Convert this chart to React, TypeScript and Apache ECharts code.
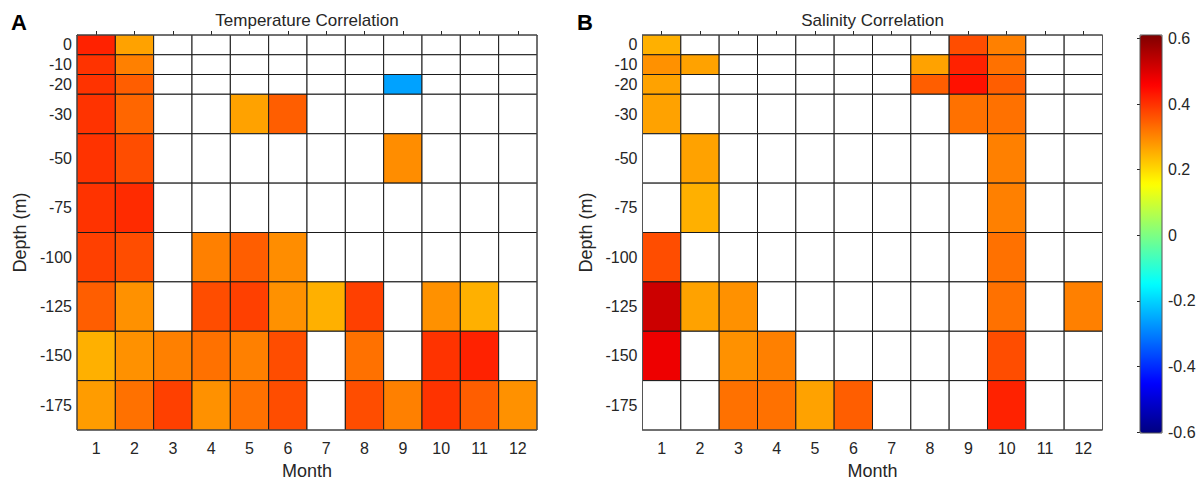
import React, { useEffect, useRef } from 'react';
import * as echarts from 'echarts';

// ---- data ----
const months = [1, 2, 3, 4, 5, 6, 7, 8, 9, 10, 11, 12];
const depthLabels = ['0', '-10', '-20', '-30', '-50', '-75', '-100', '-125', '-150', '-175'];
// row boundaries on a virtual depth scale (rows are unequal in height)
const rowEdges = [0, 2, 4, 6, 10, 15, 20, 25, 30, 35, 40];
const _ = null;

// Temperature correlation (rows = depth, columns = month), null = not shown
const tempCorr: (number | null)[][] = [
  [0.41, 0.26, _, _, _, _, _, _, _, _, _, _], // 0
  [0.39, 0.3, _, _, _, _, _, _, _, _, _, _], // -10
  [0.39, 0.34, _, _, _, _, _, _, -0.26, _, _, _], // -20
  [0.39, 0.33, _, _, 0.26, 0.34, _, _, _, _, _, _], // -30
  [0.39, 0.36, _, _, _, _, _, _, 0.285, _, _, _], // -50
  [0.39, 0.4, _, _, _, _, _, _, _, _, _, _], // -75
  [0.375, 0.36, _, 0.3, 0.34, 0.285, _, _, _, _, _, _], // -100
  [0.34, 0.28, _, 0.36, 0.375, 0.28, 0.243, 0.375, _, 0.28, 0.243, _], // -125
  [0.243, 0.28, 0.3, 0.318, 0.3, 0.36, _, 0.318, _, 0.39, 0.41, _], // -150
  [0.267, 0.318, 0.375, 0.28, 0.318, 0.36, _, 0.36, 0.3, 0.39, 0.34, 0.28], // -175
];

// Salinity correlation
const salCorr: (number | null)[][] = [
  [0.243, _, _, _, _, _, _, _, 0.36, 0.3, _, _], // 0
  [0.28, 0.26, _, _, _, _, _, 0.26, 0.41, 0.318, _, _], // -10
  [0.26, _, _, _, _, _, _, 0.34, 0.43, 0.34, _, _], // -20
  [0.26, _, _, _, _, _, _, _, 0.318, 0.318, _, _], // -30
  [_, 0.26, _, _, _, _, _, _, _, 0.3, _, _], // -50
  [_, 0.243, _, _, _, _, _, _, _, 0.3, _, _], // -75
  [0.36, _, _, _, _, _, _, _, _, 0.318, _, _], // -100
  [0.51, 0.26, 0.28, _, _, _, _, _, _, 0.318, _, 0.3], // -125
  [0.47, _, 0.28, 0.3, _, _, _, _, _, 0.36, _, _], // -150
  [_, _, 0.318, 0.318, 0.26, 0.34, _, _, _, 0.41, _, _], // -175
];

const colorMin = -0.6;
const colorMax = 0.6;
const jetColors = ['#000080', '#0000ff', '#0080ff', '#00ffff', '#80ff80', '#ffff00', '#ff8000', '#ff0000', '#800000'];

// ---- helpers ----
const FONT = "'Liberation Sans', Arial, Helvetica, sans-serif";
const TXT = '#262626';
const rowCenters = depthLabels.map((_l, i) => (rowEdges[i] + rowEdges[i + 1]) / 2);

function buildData(matrix: (number | null)[][]) {
  const out: any[] = [];
  matrix.forEach((row, r) => {
    row.forEach((v, i) => {
      out.push([months[i], r, v === null ? '-' : v]);
    });
  });
  return out;
}

const renderCell = (_params: any, api: any) => {
  const m = api.value(0);
  const r = api.value(1);
  const v = api.value(2);
  const p1 = api.coord([m - 0.5, rowEdges[r]]);
  const p2 = api.coord([m + 0.5, rowEdges[r + 1]]);
  const has = typeof v === 'number' && !isNaN(v);
  return {
    type: 'rect',
    shape: { x: p1[0], y: p1[1], width: p2[0] - p1[0], height: p2[1] - p1[1] },
    style: { fill: has ? api.visual('color') : '#ffffff', stroke: '#1a1a1a', lineWidth: 1 },
  };
};

const xAxisCfg = (gridIndex: number) => ({
  type: 'value',
  gridIndex,
  min: 0.5,
  max: 12.5,
  name: 'Month',
  nameLocation: 'middle',
  nameGap: 32,
  nameTextStyle: { fontSize: 18, color: TXT, fontFamily: FONT },
  axisLine: { show: true, lineStyle: { color: TXT, width: 1 } },
  axisTick: { show: true, inside: true, length: 4, customValues: months, lineStyle: { color: TXT } },
  axisLabel: { customValues: months, fontSize: 16, color: TXT, margin: 10, fontFamily: FONT },
  splitLine: { show: false },
});

const yAxisCfg = (gridIndex: number) => ({
  type: 'value',
  gridIndex,
  min: 0,
  max: 40,
  inverse: true,
  name: 'Depth (m)',
  nameLocation: 'middle',
  nameGap: 48,
  nameTextStyle: { fontSize: 18, color: TXT, fontFamily: FONT },
  axisLine: { show: true, lineStyle: { color: TXT, width: 1 } },
  axisTick: { show: true, inside: true, length: 4, customValues: rowCenters, lineStyle: { color: TXT } },
  axisLabel: {
    customValues: rowCenters,
    formatter: (v: number) => {
      const i = rowCenters.findIndex((c) => Math.abs(c - v) < 1e-6);
      return i >= 0 ? depthLabels[i] : '';
    },
    fontSize: 16,
    color: TXT,
    margin: 5,
    fontFamily: FONT,
  },
  splitLine: { show: false },
});

export default function App() {
  const ref = useRef<HTMLDivElement>(null);
  useEffect(() => {
    if (!ref.current) return;
    const chart = echarts.init(ref.current, undefined, { renderer: 'svg' });
    const option: any = {
      animation: false,
      backgroundColor: '#ffffff',
      textStyle: { fontFamily: FONT, color: TXT },
      grid: [
        { left: 77, top: 35, width: 460, height: 397, show: true, borderColor: '#555', borderWidth: 1, backgroundColor: 'transparent', z: 5 },
        { left: 642.5, top: 35, width: 460, height: 397, show: true, borderColor: '#555', borderWidth: 1, backgroundColor: 'transparent', z: 5 },
        { left: 1140, top: 38.5, width: 22, height: 393.5, show: false },
      ],
      xAxis: [
        xAxisCfg(0),
        xAxisCfg(1),
        { type: 'value', gridIndex: 2, min: 0, max: 1, show: false },
      ],
      yAxis: [
        yAxisCfg(0),
        yAxisCfg(1),
        {
          type: 'value',
          gridIndex: 2,
          min: colorMin,
          max: colorMax,
          interval: 0.2,
          position: 'right',
          axisLine: { show: false },
          axisTick: { show: true, inside: true, length: 3, lineStyle: { color: TXT } },
          axisLabel: {
            fontSize: 16,
            color: TXT,
            margin: 6,
            fontFamily: FONT,
            formatter: (v: number) => String(Math.round(v * 10) / 10),
          },
          splitLine: { show: false },
          z: 10,
        },
      ],
      visualMap: {
        type: 'continuous',
        min: colorMin,
        max: colorMax,
        dimension: 2,
        seriesIndex: [0, 1],
        calculable: false,
        hoverLink: false,
        orient: 'vertical',
        left: 1140,
        top: 35,
        padding: 0,
        itemWidth: 22,
        itemHeight: 398,
        text: null,
        inRange: { color: jetColors },
      },
      graphic: [
        { type: 'rect', x: 1140, y: 35, z: 100, shape: { width: 22, height: 398 }, style: { fill: 'none', stroke: '#555', lineWidth: 1 } },
        { type: 'text', x: 11, y: 22, style: { text: 'A', fontSize: 22, fontWeight: 'bold', fontFamily: FONT, fill: '#000', align: 'left', verticalAlign: 'middle' } },
        { type: 'text', x: 577, y: 22, style: { text: 'B', fontSize: 22, fontWeight: 'bold', fontFamily: FONT, fill: '#000', align: 'left', verticalAlign: 'middle' } },
        { type: 'text', x: 307, y: 20, style: { text: 'Temperature Correlation', fontSize: 17, fontFamily: FONT, fill: TXT, align: 'center', verticalAlign: 'middle' } },
        { type: 'text', x: 872.5, y: 20, style: { text: 'Salinity Correlation', fontSize: 17, fontFamily: FONT, fill: TXT, align: 'center', verticalAlign: 'middle' } },
      ],
      series: [
        { type: 'custom', name: 'Temperature', xAxisIndex: 0, yAxisIndex: 0, renderItem: renderCell, data: buildData(tempCorr), encode: { x: 0, y: 1 } },
        { type: 'custom', name: 'Salinity', xAxisIndex: 1, yAxisIndex: 1, renderItem: renderCell, data: buildData(salCorr), encode: { x: 0, y: 1 } },
      ],
    };
    chart.setOption(option);
    return () => chart.dispose();
  }, []);
  return <div ref={ref} style={{ position: 'fixed', left: 0, top: 0, width: 1203, height: 485 }} />;
}
